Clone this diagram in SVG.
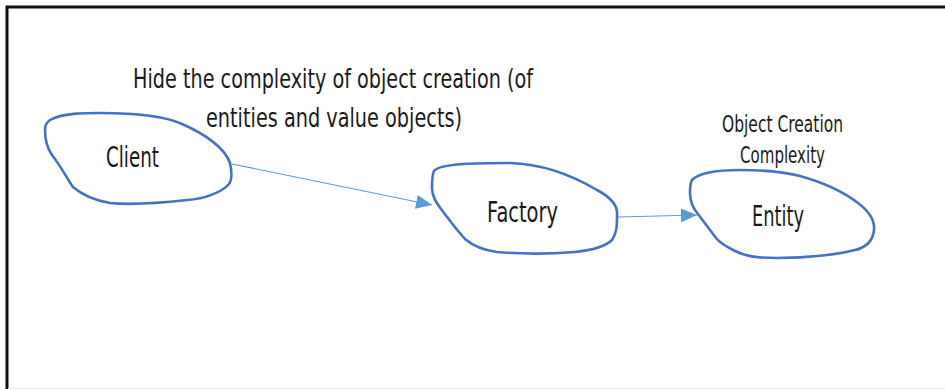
<svg xmlns="http://www.w3.org/2000/svg" width="945" height="389" viewBox="0 0 945 389">
<defs>
<style>
.blob{fill:none;stroke:#4472C4;stroke-width:2.6;stroke-linejoin:round}
.conn{fill:none;stroke:#5B9BD5;stroke-width:1.1}
.t{font-family:"DejaVu Sans","Liberation Sans",Arial,sans-serif;fill:#1a1a1a}
.big{font-size:29px}
.title{font-size:27px}
.small{font-size:23px}
</style>
<marker id="ah" viewBox="0 0 16 14" refX="16" refY="7" markerWidth="16" markerHeight="14" markerUnits="userSpaceOnUse" orient="auto">
<path d="M0,0 L16,7 L0,14 Z" fill="#5B9BD5"/>
</marker>
</defs>
<rect width="945" height="389" fill="#fff"/>
<path d="M7,389 V7 H945" fill="none" stroke="#111" stroke-width="3"/>
<line x1="8" y1="388.5" x2="945" y2="388.5" stroke="#e6e6e6" stroke-width="1"/>

<g id="title">
<text class="t title" x="133" y="88" textLength="400" lengthAdjust="spacingAndGlyphs">Hide the complexity of object creation (of</text>
<text class="t title" x="206" y="127" textLength="256" lengthAdjust="spacingAndGlyphs">entities and value objects)</text>
</g>

<g id="connectors">
<line class="conn" x1="232" y1="164" x2="432" y2="205" marker-end="url(#ah)"/>
<line class="conn" x1="618" y1="217" x2="697" y2="215" marker-end="url(#ah)"/>
</g>

<g id="client">
<path class="blob" d="M50,120 C62,113 85,113 100,113 C125,113 160,114 182,124 C205,134 225,148 230,163 C232,172 232,180 229,184 C222,192 205,199 187,200 C160,203 130,205 110,203 C92,200 80,193 73,187 C65,175 60,165 52,155 C47,148 45,138 45,130 C45,125 47,122 50,120 Z"/>
<text class="t big" x="106" y="167" textLength="53" lengthAdjust="spacingAndGlyphs">Client</text>
</g>

<g id="factory">
<path class="blob" d="M434,171 C440,163 480,163 510,163 C545,164 575,177 597,190 C612,198 618,206 617,215 C617,225 617,233 612,240 C606,246 595,250 575,252 C550,254 520,254 497,252 C482,250 472,245 465,239 C455,228 448,218 441,209 C436,202 432,196 432,188 C432,180 432,175 434,171 Z"/>
<text class="t big" x="487" y="222" textLength="71" lengthAdjust="spacingAndGlyphs">Factory</text>
</g>

<g id="entity">
<path class="blob" d="M692,180 C700,172 720,170 740,170 C760,170 780,171 800,176 C825,183 845,193 858,203 C870,212 875,220 874,230 C873,240 868,247 855,250 C840,254 810,258 777,258 C755,258 745,256 735,251 C725,246 720,243 716,238 C710,230 704,222 698,214 C692,207 690,200 690,193 C690,187 690,183 692,180 Z"/>
<text class="t big" x="752" y="226" textLength="52" lengthAdjust="spacingAndGlyphs">Entity</text>
<text class="t small" x="722" y="132" textLength="121" lengthAdjust="spacingAndGlyphs">Object Creation</text>
<text class="t small" x="740" y="163" textLength="85" lengthAdjust="spacingAndGlyphs">Complexity</text>
</g>
</svg>
